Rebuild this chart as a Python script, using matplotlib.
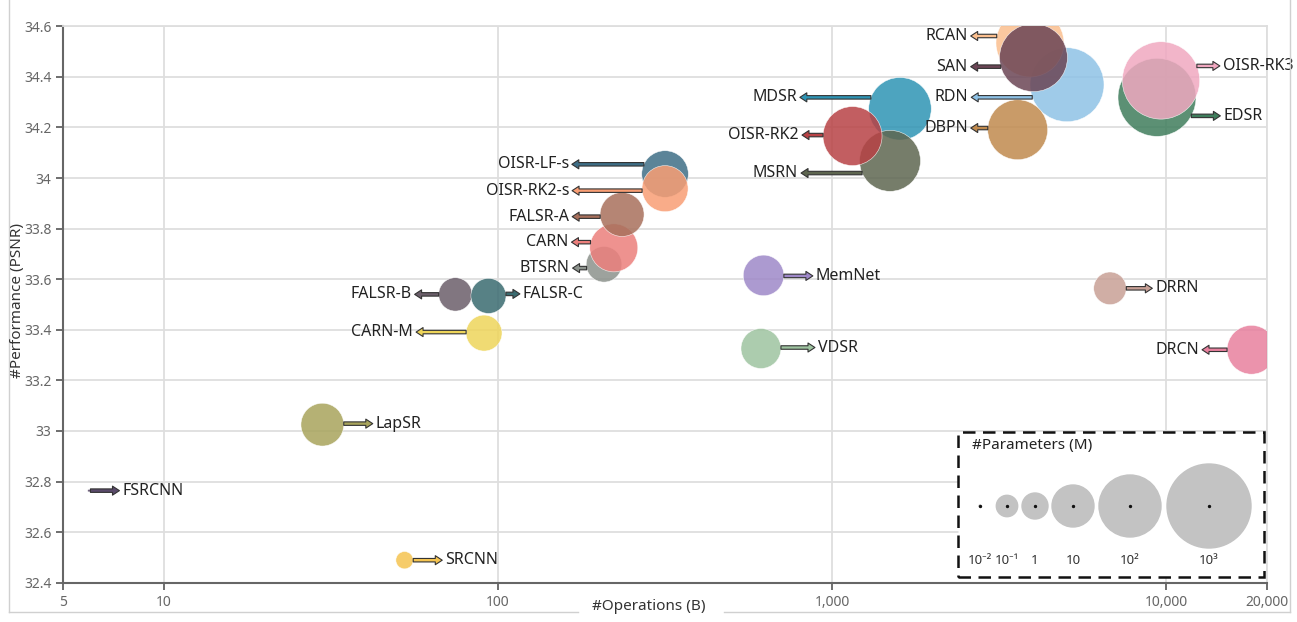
import numpy as np
import matplotlib.pyplot as plt
from matplotlib.patches import Rectangle
from matplotlib.lines import Line2D
from matplotlib.ticker import NullLocator

plt.rcParams['font.family'] = ['Noto Sans', 'DejaVu Sans']

# data: model, operations (B), PSNR, parameters (M)
models = ['FSRCNN', 'SRCNN', 'LapSR', 'CARN-M', 'FALSR-B', 'FALSR-C', 'BTSRN', 'CARN',
          'FALSR-A', 'OISR-LF-s', 'OISR-RK2-s', 'MemNet', 'VDSR', 'DRRN', 'DRCN',
          'MDSR', 'MSRN', 'OISR-RK2', 'RDN', 'DBPN', 'RCAN', 'SAN', 'EDSR', 'OISR-RK3']
ops = [5.97, 52.5, 29.8, 90.8, 74.5, 93.6, 207.5, 222,
       235, 316, 316, 623, 612, 6780, 17970,
       1595, 1489, 1150, 5042, 3589, 3906, 4001, 9373, 9634]
psnr = [32.764, 32.489, 33.025, 33.387, 33.540, 33.534, 33.659, 33.724,
        33.856, 34.016, 33.958, 33.615, 33.326, 33.564, 33.321,
        34.274, 34.068, 34.166, 34.369, 34.191, 34.534, 34.476, 34.319, 34.386]
params = [0.011, 0.062, 11, 4.2, 2.9, 3.7, 4.0, 20,
          12.6, 17, 16, 8.2, 7.5, 2.6, 22,
          106, 89, 71, 351, 79, 187, 187, 534, 500]

colors = ['#5a4a6a', '#f5c450', '#a8a45c', '#eed55a', '#6b5e6a', '#3a6b70', '#8c928c', '#ec7f7c',
          '#a8705c', '#3e6e86', '#f99e74', '#9e88c8', '#9ec4a0', '#c8a096', '#e8809e',
          '#2e94b4', '#5e6650', '#b84245', '#8ec2e6', '#c08a4e', '#fbbf8e', '#6b4555', '#3f7d5c', '#f0a8c0']

# label layout: side, arrow length (px), label offset from centre (px, downward)
label_side = ['r', 'r', 'r', 'l', 'l', 'r', 'l', 'l',
              'l', 'l', 'l', 'r', 'r', 'r', 'l',
              'l', 'l', 'l', 'l', 'l', 'l', 'l', 'r', 'r']
arrow_len = [29, 29, 29, 50, 24, 14, 14, 19,
             28, 72, 70, 29, 34, 26, 25,
             71, 61, 21, 61, 17, 26, 30, 29, 23]
label_dy = [0, 0, -1, -1, 0, -2, 3.8, -5.7,
            2.2, -9.7, 2, 0.5, -1, 0, 0,
            -11.4, 12.2, -1, 12.6, -1.7, -7, 9, 18.5, -14.5]

legend_p = [0.01, 0.1, 1, 10, 100, 1000]
legend_lbl = ['10⁻²', '10⁻¹', '1', '10', '10²', '10³']

xticks = [5, 10, 100, 1000, 10000, 20000]
xtick_lbl = ['5', '10', '100', '1,000', '10,000', '20,000']
yticks = np.round(np.arange(32.4, 34.61, 0.2), 1)

W, H = 1297, 622


def radius(p):
    # bubble radius in pixels from parameter count (log scale)
    return np.interp(np.log10(p), [-2, -1, 0, 1, 2, 3], [1, 10.7, 13, 21, 31, 42])


def area(p):
    return (2 * radius(np.asarray(p)) * 72 / 100) ** 2


fig = plt.figure(figsize=(W / 100, H / 100), dpi=100)
ax = fig.add_axes([63.3 / W, 1 - 582.7 / H, (1267 - 63.3) / W, (582.7 - 26.3) / H])
ax.set_xscale('log')
ax.set_xlim(5, 20000)
ax.set_ylim(32.4, 34.6)
ax.set_xticks(xticks)
ax.set_xticklabels(xtick_lbl)
ax.xaxis.set_minor_locator(NullLocator())
ax.set_yticks(yticks)
ax.set_yticklabels([f'{v:g}' for v in yticks])
ax.grid(True, color='#dedede', lw=1.3)
ax.set_axisbelow(True)
ax.tick_params(length=5, width=1.2, color='#555', labelcolor='#666', labelsize=10)
for s in ['left', 'bottom']:
    ax.spines[s].set_color('#666')
    ax.spines[s].set_linewidth(1.5)
for s in ['top', 'right']:
    ax.spines[s].set_color('#dedede')
    ax.spines[s].set_linewidth(1.3)

ax.scatter(ops, psnr, s=area(params), c=colors, alpha=0.85,
           edgecolors='white', linewidths=0.4, zorder=3)

# arrows and labels
for i, name in enumerate(models):
    cx, cy = ax.transData.transform((ops[i], psnr[i]))
    r = radius(params[i])
    dy = label_dy[i]
    edge = np.sqrt(max(r ** 2 - dy ** 2, 0))
    sgn = 1 if label_side[i] == 'r' else -1
    y = cy - dy
    x0 = cx + sgn * edge
    x1 = x0 + sgn * arrow_len[i]
    ax.annotate('', xy=(x1, y), xytext=(x0, y), xycoords='figure pixels',
                textcoords='figure pixels', zorder=4,
                arrowprops=dict(arrowstyle='simple,head_length=0.5,head_width=0.65,tail_width=0.25',
                                fc=colors[i], ec='#333', lw=0.8, shrinkA=0, shrinkB=0,
                                mutation_scale=10))
    ax.annotate(name, xy=(x1 + sgn * 3, y), xycoords='figure pixels',
                ha='left' if sgn > 0 else 'right', va='center',
                fontsize=11.5, color='#222', zorder=5)

# size legend
box = Rectangle((958 / W, 1 - 577 / H), 306 / W, 145 / H, transform=fig.transFigure,
                fc='white', ec='#111', lw=1.8, ls=(0, (5, 3)), zorder=6)
ax.add_patch(box)
ax.text(972 / W, 1 - 446 / H, '#Parameters (M)', transform=fig.transFigure,
        ha='left', va='center', fontsize=11, color='#222', zorder=7)
leg_x = np.array([980, 1007, 1035, 1073, 1130, 1209]) / W
leg_y = np.full(len(leg_x), 1 - 506 / H)
ax.scatter(leg_x, leg_y, s=area(legend_p), c='#c3c3c3', transform=fig.transFigure,
           zorder=7, clip_on=False)
ax.scatter(leg_x, leg_y, s=2, c='#111', transform=fig.transFigure, zorder=8, clip_on=False)
for lx, t in zip(leg_x, legend_lbl):
    ax.text(lx, 1 - 561 / H, t, transform=fig.transFigure, ha='center', va='center',
            fontsize=9.5, color='#333', zorder=8)

# axis titles
fig.text(18 / W, 1 - 300 / H, '#Performance (PSNR)', rotation=90, ha='center', va='center',
         fontsize=11, color='#333')
fig.text(649 / W, 1 - 607 / H, '#Operations (B)', ha='center', va='center',
         fontsize=11, color='#333')

# outer frame with gap for the x label
frame = dict(color='#d0d0d0', lw=1, transform=fig.transFigure)
fig.add_artist(Line2D([9 / W, 9 / W], [1, 1 - 612 / H], **frame))
fig.add_artist(Line2D([1290 / W, 1290 / W], [1, 1 - 612 / H], **frame))
fig.add_artist(Line2D([9 / W, 578 / W], [1 - 612 / H] * 2, **frame))
fig.add_artist(Line2D([724 / W, 1290 / W], [1 - 612 / H] * 2, **frame))

plt.savefig('out.png', dpi=100)
